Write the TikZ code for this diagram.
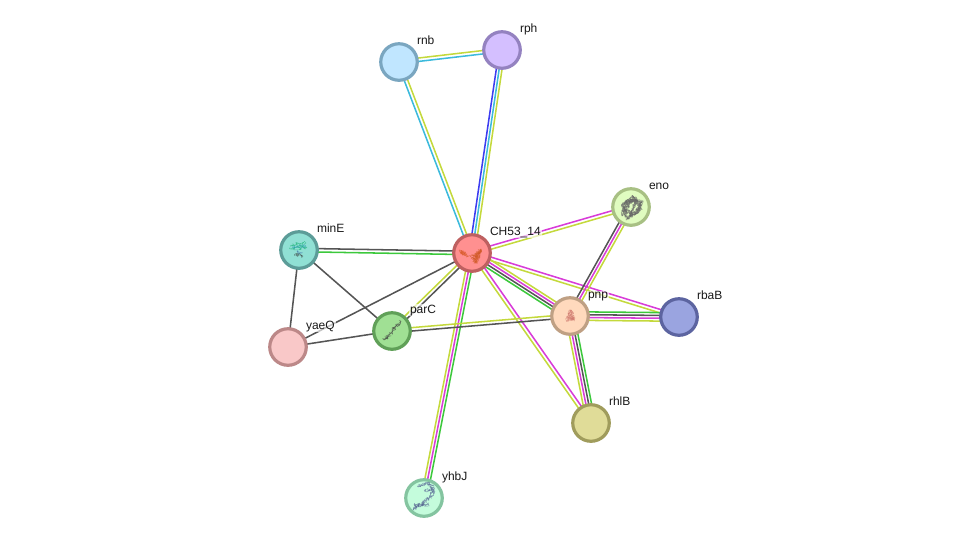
\documentclass[tikz,border=0pt]{standalone}
\usepackage{fontspec}
\setmainfont{Liberation Sans}
\usetikzlibrary{calc,backgrounds,decorations.pathmorphing}
\definecolor{lnyellow}{HTML}{C4D93C}
\definecolor{lncyan}{HTML}{3CBADC}
\definecolor{lnblue}{HTML}{3C3CF0}
\definecolor{lnmagenta}{HTML}{D83CD8}
\definecolor{lngreen}{HTML}{3CC83C}
\definecolor{lndark}{HTML}{555555}
\tikzset{
  protein/.style={circle,draw,line width=2.4pt,minimum size=27.4pt,inner sep=0pt},
  tag/.style={anchor=base west,font=\fontsize{9}{10}\selectfont,text=black!90,
    fill=white,fill opacity=0.65,text opacity=1,inner sep=0.6pt},
  strand/.style={line width=1.15pt},
  chain/.style={line width=0.3pt,line join=round,opacity=0.6,decorate,
    decoration={random steps,segment length=0.9pt,amplitude=1.6pt}},
}
% parallel evidence lines between two proteins: colour/offset pairs,
% with positive offsets to the left of the direction of travel
\newcommand{\linkedge}[3]{%
  \foreach \lc/\lo in {#3}{%
    \draw[strand,\lc] ($(#1)!\lo*0.85pt!90:(#2)$) -- ($(#2)!\lo*0.85pt!-90:(#1)$);
  }%
}
\begin{document}
\begin{tikzpicture}[x=0.75pt,y=-0.75pt]
\useasboundingbox (0,0) rectangle (976,543);
\pgfmathsetseed{4711}

% proteins
\node[protein,fill={rgb,255:red,192;green,230;blue,255},draw={rgb,255:red,122;green,166;blue,192}] (rnb) at (399,62) {};
\node[protein,fill={rgb,255:red,212;green,191;blue,255},draw={rgb,255:red,148;green,130;blue,192}] (rph) at (502,50) {};
\node[protein,fill={rgb,255:red,255;green,144;blue,144},draw={rgb,255:red,190;green,96;blue,96}] (ch) at (472,253) {};
\node[protein,fill={rgb,255:red,224;green,252;blue,192},draw={rgb,255:red,168;green,192;blue,132}] (eno) at (631,207) {};
\node[protein,fill={rgb,255:red,144;green,224;blue,212},draw={rgb,255:red,92;green,156;blue,152}] (mine) at (299,250) {};
\node[protein,fill={rgb,255:red,255;green,217;blue,189},draw={rgb,255:red,191;green,160;blue,132}] (pnp) at (570,316) {};
\node[protein,fill={rgb,255:red,154;green,164;blue,224},draw={rgb,255:red,92;green,100;blue,160}] (rbab) at (679,317) {};
\node[protein,fill={rgb,255:red,160;green,224;blue,148},draw={rgb,255:red,96;green,160;blue,88}] (parc) at (392,331) {};
\node[protein,fill={rgb,255:red,249;green,200;blue,200},draw={rgb,255:red,188;green,136;blue,136}] (yaeq) at (288,347) {};
\node[protein,fill={rgb,255:red,224;green,220;blue,152},draw={rgb,255:red,160;green,156;blue,92}] (rhlb) at (591,423) {};
\node[protein,fill={rgb,255:red,196;green,252;blue,220},draw={rgb,255:red,132;green,196;blue,160}] (yhbj) at (424,498) {};

% associations
\begin{scope}[on background layer]
  \linkedge{rnb}{rph}{lnyellow/1.5,lncyan/-1.5}
  \linkedge{rnb}{ch}{lnyellow/1.5,lncyan/-1.5}
  \linkedge{rph}{ch}{lnblue/-2.5,lncyan/0,lnyellow/2.5}
  \linkedge{ch}{eno}{lnmagenta/1.5,lnyellow/-1.5}
  \linkedge{ch}{mine}{lndark/-1.5,lngreen/1.5}
  \linkedge{ch}{pnp}{lnyellow/3.75,lnmagenta/1.25,lndark/-1.25,lngreen/-3.75}
  \linkedge{ch}{rbab}{lnmagenta/1.5,lnyellow/-1.5}
  \linkedge{ch}{rhlb}{lnmagenta/1.5,lnyellow/-1.5}
  \linkedge{ch}{parc}{lndark/1.5,lnyellow/-1.5}
  \linkedge{ch}{yaeq}{lndark/0}
  \linkedge{ch}{yhbj}{lngreen/2.5,lnmagenta/0,lnyellow/-2.5}
  \linkedge{mine}{yaeq}{lndark/0}
  \linkedge{mine}{parc}{lndark/0}
  \linkedge{yaeq}{parc}{lndark/0}
  \linkedge{parc}{pnp}{lnyellow/1.5,lndark/-1.5}
  \linkedge{pnp}{eno}{lndark/2.5,lnmagenta/0,lnyellow/-2.5}
  \linkedge{pnp}{rbab}{lngreen/3.75,lndark/1.25,lnmagenta/-1.25,lnyellow/-3.75}
  \linkedge{pnp}{rhlb}{lngreen/3.75,lndark/1.25,lnmagenta/-1.25,lnyellow/-3.75}
\end{scope}

% structure renderings inside the proteins
\foreach \i in {1,2,3}{
  \draw[chain,color={rgb,255:red,215;green,90;blue,40}] (459,250) -- (465,254) -- (461,252) -- (468,256);
  \draw[chain,color={rgb,255:red,205;green,85;blue,30}] (470,256) -- (475,256) -- (481,249) -- (476,263) -- (473,258) -- (480,252) -- (475,261);
}
\foreach \i in {1,...,5}{
  \draw[chain,color=black!60] (622,216) -- (627,200) -- (642,202) -- (636,214) -- (625,211) -- (633,196) -- (641,208) -- (627,219) -- (622,204) -- (637,200) -- (630,216);
}
\foreach \i in {1,2}{
  \draw[chain,color={rgb,255:red,30;green,180;blue,120}] (291,245) -- (306,243);
  \draw[chain,color={rgb,255:red,30;green,180;blue,120}] (290,249) -- (307,247);
  \draw[chain,color={rgb,255:red,30;green,150;blue,170}] (292,247) -- (306,246);
  \draw[chain,color=black!80] (295,254) -- (303,256);
  \draw[chain,color={rgb,255:red,60;green,110;blue,170}] (297,251) -- (302,253);
}
\foreach \i in {1,2,3}{
  \draw[chain,color={rgb,255:red,205;green,115;blue,105}] (566,320) -- (573,319) -- (568,313) -- (571,310) -- (574,320) -- (567,316);
}
\foreach \i in {1,2,3}{
  \draw[chain,color=black!75] (384,340) -- (390,334) -- (396,326) -- (401,321);
}
\foreach \i in {1,2,3}{
  \draw[chain,color={rgb,255:red,90;green,105;blue,150}] (418,487) .. controls (430,480) and (438,488) .. (430,497) .. controls (424,502) and (422,504) .. (413,510);
  \draw[chain,color={rgb,255:red,90;green,105;blue,150}] (425,491) -- (432,488) -- (434,494);
  \draw[chain,color={rgb,255:red,80;green,95;blue,140}] (414,505) -- (428,504);
}

% names
\node[tag] (rnb-l) at (416,44) {rnb};
\node[tag] (rph-l) at (519,32) {rph};
\node[tag] (ch-l) at (489,235) {CH53\_14};
\node[tag] (eno-l) at (648,189) {eno};
\node[tag] (mine-l) at (316,232) {minE};
\node[tag] (pnp-l) at (587,298) {pnp};
\node[tag] (rbab-l) at (696,299) {rbaB};
\node[tag] (parc-l) at (409,313) {parC};
\node[tag] (yaeq-l) at (305,329) {yaeQ};
\node[tag] (rhlb-l) at (608,405) {rhlB};
\node[tag] (yhbj-l) at (441,480) {yhbJ};
\end{tikzpicture}
\end{document}
